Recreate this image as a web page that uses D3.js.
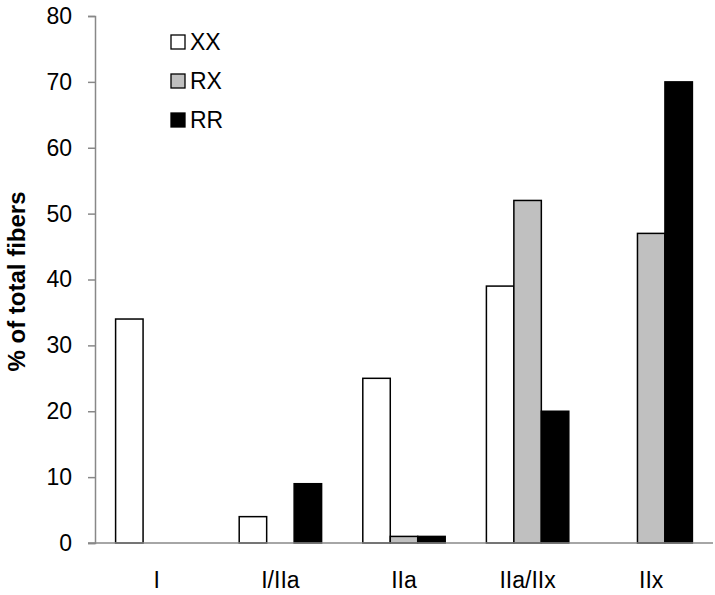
<!DOCTYPE html>
<html>
<head>
<meta charset="utf-8">
<script src="https://cdn.jsdelivr.net/npm/d3@7"></script>
<style>
  body { margin: 0; background: #fff; }
  text { font-family: "Liberation Sans", Arial, sans-serif; }
</style>
</head>
<body>
<svg id="chart" width="715" height="595"></svg>
<script>
// data
const categories = ["I", "I/IIa", "IIa", "IIa/IIx", "IIx"];
const seriesNames = ["XX", "RX", "RR"];
const xxValues = [34, 4, 25, 39, 0];
const rxValues = [0, 0, 1, 52, 47];
const rrValues = [0, 9, 1, 20, 70];
const yTicks = [0, 10, 20, 30, 40, 50, 60, 70, 80];
const fills = ["#ffffff", "#c0c0c0", "#000000"];

const allSeries = [xxValues, rxValues, rrValues];

const svg = d3.select("#chart");

const plotLeft = 95, plotRight = 713, plotTop = 16, plotBottom = 543;

const x = d3.scaleBand()
  .domain(categories)
  .range([plotLeft, plotRight]);

const xSub = d3.scaleBand()
  .domain(seriesNames)
  .range([0, x.bandwidth()])
  .paddingOuter(0.75)
  .paddingInner(0);

const y = d3.scaleLinear()
  .domain([0, 80])
  .range([plotBottom, plotTop]);

// bars
const groups = svg.append("g")
  .selectAll("g")
  .data(categories)
  .enter()
  .append("g")
  .attr("transform", d => "translate(" + x(d) + ",0)");

groups.selectAll("rect")
  .data((c, i) => seriesNames.map((s, j) => ({ s: s, j: j, v: allSeries[j][i] })).filter(d => d.v > 0))
  .enter()
  .append("rect")
  .attr("x", d => xSub(d.s))
  .attr("width", xSub.bandwidth())
  .attr("y", d => y(d.v))
  .attr("height", d => y(0) - y(d.v))
  .attr("fill", d => fills[d.j])
  .attr("stroke", "#000")
  .attr("stroke-width", 1.5);

// y axis
const yAxis = svg.append("g")
  .attr("transform", "translate(" + plotLeft + ",0)")
  .call(d3.axisLeft(y).tickValues(yTicks).tickSize(7).tickPadding(16));
yAxis.attr("font-size", null).attr("font-family", null);
yAxis.select(".domain").attr("stroke", "#888").attr("stroke-width", 1.5);
yAxis.selectAll(".tick line").attr("stroke", "#888").attr("stroke-width", 1.5);
yAxis.selectAll(".tick text")
  .style("font-size", "23px")
  .attr("fill", "#000");

// x axis
const xAxis = svg.append("g")
  .attr("transform", "translate(0," + plotBottom + ")")
  .call(d3.axisBottom(x).tickSize(0).tickPadding(0));
xAxis.attr("font-size", null).attr("font-family", null);
xAxis.select(".domain").attr("stroke", "#888").attr("stroke-width", 1.5)
  .attr("d", "M" + (plotLeft - 7) + ",0H" + plotRight);
xAxis.selectAll(".tick text")
  .style("font-size", "23px")
  .attr("fill", "#000")
  .attr("y", 45)
  .attr("dy", null);

// y title
svg.append("text")
  .attr("transform", "translate(25," + ((plotTop + plotBottom) / 2 + 2) + ") rotate(-90)")
  .attr("text-anchor", "middle")
  .style("font-size", "24px")
  .attr("font-weight", "bold")
  .text("% of total fibers");

// legend
const legend = svg.append("g")
  .selectAll("g")
  .data(seriesNames)
  .enter()
  .append("g")
  .attr("transform", (d, i) => "translate(171," + (35 + i * 39) + ")");

legend.append("rect")
  .attr("width", 14)
  .attr("height", 14)
  .attr("fill", (d, i) => fills[i])
  .attr("stroke", "#000")
  .attr("stroke-width", 1.3);

legend.append("text")
  .attr("x", 19)
  .attr("y", 15)
  .style("font-size", "23px")
  .text(d => d);
</script>
</body>
</html>
